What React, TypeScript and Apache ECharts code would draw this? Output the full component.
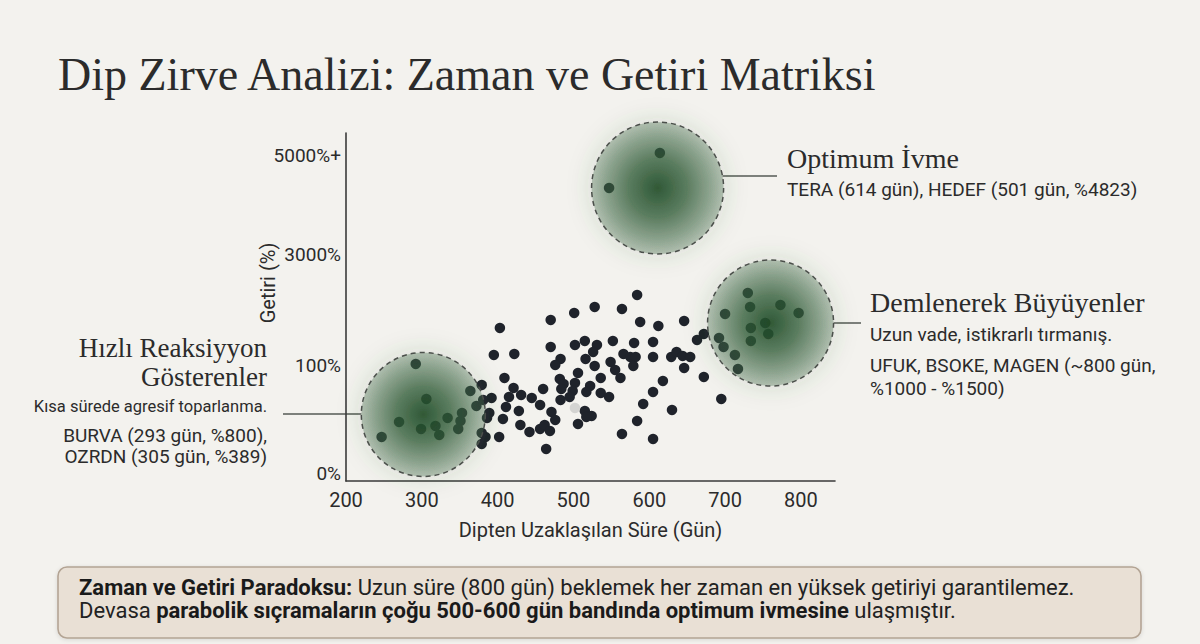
import React, { useEffect, useRef } from "react";
import * as echarts from "echarts";

// ---- Data (days since bottom, return position on the chart's return scale) ----
const FAST_RECOVERY: [number, number][] = [
  [292, 1.17], [306, 0.82], [270, 0.59], [247, 0.44], [299, 0.52], [318, 0.55],
  [323, 0.46], [334, 0.63], [353, 0.68], [351, 0.6], [348, 0.52], [364, 0.9],
  [379, 0.96], [381, 0.81], [372, 0.75], [389, 0.68], [386, 0.63], [379, 0.48],
  [384, 0.44], [379, 0.37], [392, 0.83], [395, 1.26],
];

const MID_RANGE: [number, number][] = [
  [402, 0.44], [422, 1.27], [409, 1.03], [421, 0.93], [415, 0.84], [431, 0.86],
  [445, 0.83], [411, 0.74], [428, 0.7], [407, 0.62], [430, 0.56], [442, 0.49],
  [456, 0.52], [456, 0.76], [403, 1.53], [584, 1.86], [528, 1.74], [564, 1.72],
  [501, 1.68], [470, 1.61], [588, 1.59], [612, 1.55], [646, 1.6], [672, 1.47],
  [663, 1.41], [515, 1.4], [552, 1.4], [580, 1.38], [605, 1.39], [502, 1.36],
  [531, 1.36], [470, 1.34], [526, 1.29], [566, 1.27], [483, 1.22], [516, 1.22],
  [549, 1.19], [575, 1.24], [582, 1.24], [605, 1.24], [629, 1.24], [636, 1.29],
  [644, 1.25], [654, 1.24], [476, 1.16], [528, 1.15], [579, 1.15], [555, 1.11],
  [646, 1.13], [506, 1.08], [562, 1.03], [536, 1.03], [672, 1.04], [482, 1.02],
  [487, 0.97], [502, 0.98], [618, 1.0], [460, 0.92], [484, 0.92], [499, 0.9],
  [522, 0.95], [517, 0.89], [536, 0.88], [547, 0.84], [495, 0.84], [483, 0.81],
  [605, 0.89], [592, 0.77], [695, 0.82], [630, 0.71], [471, 0.69], [515, 0.7],
  [524, 0.65], [517, 0.64], [476, 0.61], [584, 0.6], [506, 0.57], [462, 0.56],
  [469, 0.5], [564, 0.47], [605, 0.42], [464, 0.32],
];

const HIGHLIGHT_POINT: [number, number][] = [[502, 0.73]];

const SLOW_BUILD: [number, number][] = [
  [730, 1.88], [733, 1.74], [773, 1.76], [797, 1.68], [700, 1.67], [753, 1.58],
  [734, 1.53], [757, 1.47], [734, 1.4], [692, 1.43], [698, 1.34], [713, 1.26],
  [717, 1.12],
];

const OPTIMUM: [number, number][] = [[614, 3.28], [547, 2.93]];

// cluster centres (day, return position)
const CLUSTER_NAMES = ["fast", "optimum", "slow"];
const CLUSTER_CENTERS: [number, number][] = [[302, 0.665], [611, 2.93], [760, 1.58]];

// axes
const X_MIN = 200;
const X_MAX = 845;
const X_STEP = 100;
const Y_MAX = 3.48;
const Y_TICK_VALUES = [0.08, 1.16, 2.27, 3.26];
const Y_TICK_LABELS = ["0%", "100%", "3000%", "5000%+"];

// ---- Styles ----
const CLUSTER_SIZES = [124, 132, 126];
const SANS = "Roboto";
const SERIF = "Liberation Serif";
const TEXT = "#2b2b2b";

export default function App() {
  const ref = useRef<HTMLDivElement>(null);

  useEffect(() => {
    document.body.style.margin = "0";
    const chart = echarts.init(ref.current!, null, { renderer: "svg" });

    const circleFill = new echarts.graphic.RadialGradient(0.5, 0.5, 0.5, [
      { offset: 0, color: "rgba(32,76,40,0.9)" },
      { offset: 0.45, color: "rgba(46,90,54,0.7)" },
      { offset: 1, color: "rgba(72,110,78,0.34)" },
    ]);

    chart.setOption({
      animation: false,
      backgroundColor: "#f3f2ee",
      grid: { left: 346, top: 133, width: 489, height: 348, containLabel: false },
      xAxis: {
        type: "value",
        min: X_MIN,
        max: X_MAX,
        interval: X_STEP,
        name: "Dipten Uzaklaşılan Süre (Gün)",
        nameLocation: "middle",
        nameGap: 39,
        nameTextStyle: { fontFamily: SANS, fontSize: 20, color: TEXT },
        axisLine: { lineStyle: { color: "#3a3a3a", width: 1.6 } },
        axisTick: { show: false },
        splitLine: { show: false },
        axisLabel: {
          showMaxLabel: false,
          margin: 9,
          fontFamily: SANS,
          fontSize: 20,
          color: TEXT,
        },
      },
      yAxis: {
        type: "value",
        min: 0,
        max: Y_MAX,
        axisLine: { show: true, lineStyle: { color: "#3a3a3a", width: 1.6 } },
        axisTick: { show: false },
        splitLine: { show: false },
        axisLabel: {
          customValues: Y_TICK_VALUES,
          margin: 5,
          fontFamily: SANS,
          fontSize: 19,
          color: TEXT,
          formatter: (v: number) => {
            let best = 0;
            Y_TICK_VALUES.forEach((t, i) => {
              if (Math.abs(t - v) < Math.abs(Y_TICK_VALUES[best] - v)) best = i;
            });
            return Y_TICK_LABELS[best];
          },
        },
      },
      series: [
        {
          type: "scatter",
          name: "points",
          symbolSize: 10.5,
          clip: false,
          itemStyle: { color: "#1f232b", opacity: 1 },
          data: [...FAST_RECOVERY, ...MID_RANGE, ...SLOW_BUILD, ...OPTIMUM],
          z: 2,
        },
        {
          type: "scatter",
          name: "highlight",
          symbolSize: 10.5,
          itemStyle: { color: "#d4d4d2", opacity: 1 },
          data: HIGHLIGHT_POINT,
          z: 2,
        },
        {
          type: "scatter",
          name: "clusters",
          silent: true,
          clip: false,
          z: 3,
          data: CLUSTER_CENTERS.map((c, i) => ({
            name: CLUSTER_NAMES[i],
            value: c,
            symbolSize: CLUSTER_SIZES[i],
          })),
          itemStyle: {
            color: circleFill,
            opacity: 1,
            borderColor: "#4b504b",
            borderWidth: 1.5,
            borderType: [5, 4],
            shadowBlur: 24,
            shadowColor: "rgba(50,95,55,0.35)",
          },
        },
      ],
    });

    const pts = CLUSTER_CENTERS.map((c) => chart.convertToPixel({ gridIndex: 0 }, c) as number[]);
    const edgeX = (i: number, y: number, side: number) => {
      const r = CLUSTER_SIZES[i] / 2;
      const dy = y - pts[i][1];
      return pts[i][0] + side * Math.sqrt(Math.max(0, r * r - dy * dy));
    };
    const lineStyle = { stroke: "#555a55", lineWidth: 1.5 };
    const txt = (
      text: string,
      x: number,
      y: number,
      font: string,
      align: string = "left"
    ) => ({
      type: "text",
      x,
      y,
      silent: true,
      style: { text, font, fill: TEXT, textAlign: align, textVerticalAlign: "middle" },
    });

    const leftY = 414;
    const topY = 176;
    const rightY = 323;

    chart.setOption({
      graphic: [
        txt("Dip Zirve Analizi: Zaman ve Getiri Matriksi", 58, 74, `46px '${SERIF}'`),
        {
          type: "text",
          x: 268,
          y: 283,
          rotation: Math.PI / 2,
          silent: true,
          style: {
            text: "Getiri (%)",
            font: `20px ${SANS}`,
            fill: TEXT,
            textAlign: "center",
            textVerticalAlign: "middle",
          },
        },
        // left annotation
        { type: "line", shape: { x1: 283, y1: leftY, x2: edgeX(0, leftY, -1), y2: leftY }, style: lineStyle, silent: true },
        txt("Hızlı Reaksiyyon", 267, 348, `27px '${SERIF}'`, "right"),
        txt("Gösterenler", 267, 377, `27px '${SERIF}'`, "right"),
        txt("Kısa sürede agresif toparlanma.", 267, 406, `16.5px ${SANS}`, "right"),
        txt("BURVA (293 gün, %800),", 267, 435, `19px ${SANS}`, "right"),
        txt("OZRDN (305 gün, %389)", 267, 456, `19px ${SANS}`, "right"),
        // top annotation
        { type: "line", shape: { x1: edgeX(1, topY, 1), y1: topY, x2: 777, y2: topY }, style: lineStyle, silent: true },
        txt("Optimum İvme", 787, 158, `28px '${SERIF}'`),
        txt("TERA (614 gün), HEDEF (501 gün, %4823)", 787, 189, `19px ${SANS}`),
        // right annotation
        { type: "line", shape: { x1: edgeX(2, rightY, 1), y1: rightY, x2: 861, y2: rightY }, style: lineStyle, silent: true },
        txt("Demlenerek Büyüyenler", 870, 302, `28px '${SERIF}'`),
        txt("Uzun vade, istikrarlı tırmanış.", 870, 334, `19px ${SANS}`),
        txt("UFUK, BSOKE, MAGEN (~800 gün,", 870, 365, `19px ${SANS}`),
        txt("%1000 - %1500)", 870, 388, `19px ${SANS}`),
        // bottom note box
        {
          type: "rect",
          silent: true,
          shape: { x: 58, y: 567, width: 1083, height: 71, r: 9 },
          style: {
            fill: "#e9e0d5",
            stroke: "#b3a494",
            lineWidth: 1.6,
            shadowBlur: 4,
            shadowColor: "rgba(0,0,0,0.12)",
            shadowOffsetY: 1,
          },
        },
        {
          type: "text",
          x: 79,
          y: 576,
          silent: true,
          style: {
            text:
              "{b|Zaman ve Getiri Paradoksu:} Uzun süre (800 gün) beklemek her zaman en yüksek getiriyi garantilemez.\n" +
              "Devasa {b|parabolik sıçramaların çoğu 500-600 gün bandında optimum ivmesine} ulaşmıştır.",
            font: `22px ${SANS}`,
            fill: "#222",
            lineHeight: 23,
            textAlign: "left",
            textVerticalAlign: "top",
            rich: {
              b: { fontFamily: SANS, fontSize: 22, fontWeight: "bold", fill: "#1a1a1a", lineHeight: 23 },
            },
          },
        },
      ],
    });

    return () => chart.dispose();
  }, []);

  return <div ref={ref} style={{ width: 1200, height: 644, position: "absolute", left: 0, top: 0 }} />;
}
